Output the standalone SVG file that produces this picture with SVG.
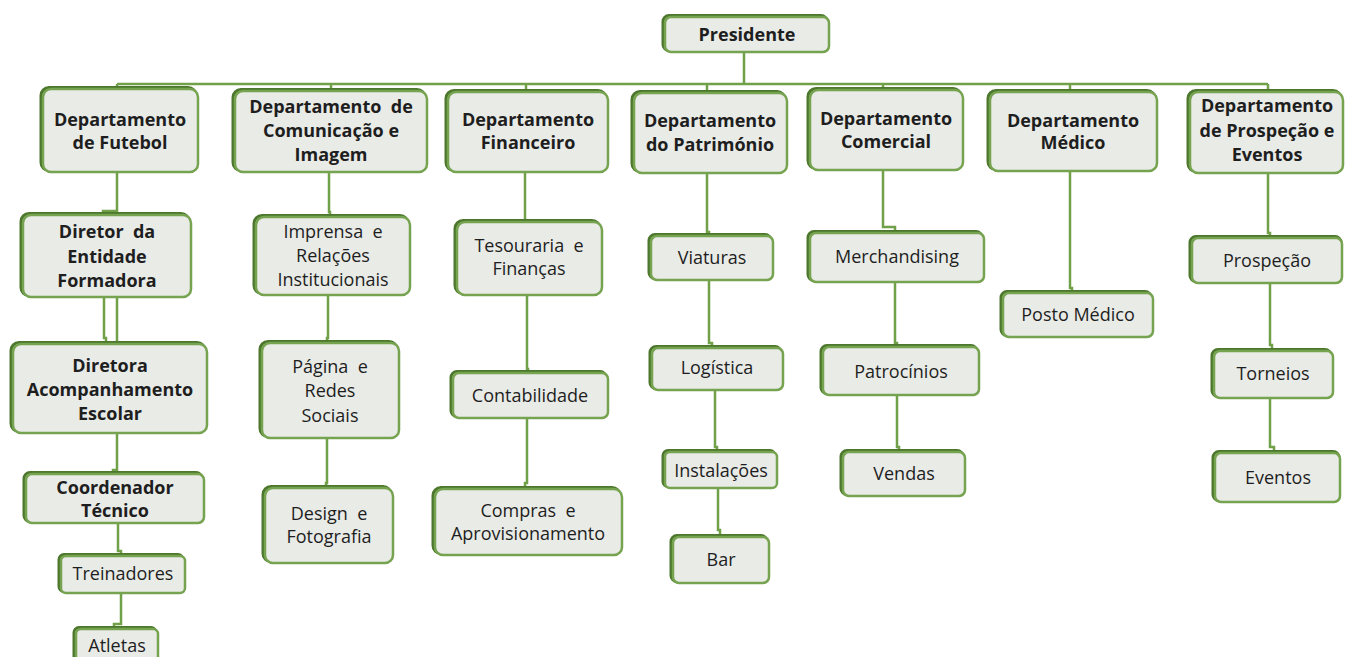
<svg xmlns="http://www.w3.org/2000/svg" width="1345" height="657" viewBox="0 0 1345 657">
<style>
.sh{fill:none;stroke:#4d772d;stroke-width:3}
.bx{fill:#e9ebe7;stroke:#76a34f;stroke-width:2.5}
.t{font-family:"Open Sans","Liberation Sans",sans-serif;font-size:18px;fill:#1e1e1e;text-anchor:middle;white-space:pre}
.b{font-weight:bold;font-size:18px}
.c{fill:none;stroke:#70a048;stroke-width:2.5}
</style>
<rect width="1345" height="657" fill="#ffffff"/>
<g id="connectors" class="c">
<path d="M744 52V84M117 84H1268"/>
<path d="M117 84V89M331 84V91M526 84V92M707 84V93M883 84V90M1070 84V92M1268 84V92"/>
<path d="M117 172V211H103V215"/>
<path d="M104 297V338H106V344M117 297V344"/>
<path d="M117 433V470H113V474"/>
<path d="M118 523V551H121V556"/>
<path d="M121 593V624H114V629"/>
<path d="M329 172V212H330V217"/>
<path d="M328 295V338H327V343"/>
<path d="M327 438V483H326V488"/>
<path d="M525 172V222"/>
<path d="M527 295V369H528V373"/>
<path d="M527 418V483H525V489"/>
<path d="M707 173V232H709V236"/>
<path d="M709 280V343H712V348"/>
<path d="M715 390V447H717V452"/>
<path d="M718 488V530H720V537"/>
<path d="M883 170V227H895V233"/>
<path d="M895 282V343H897V347"/>
<path d="M897 395V447H899V452"/>
<path d="M1070 171V288H1072V293"/>
<path d="M1268 173V233H1270V238"/>
<path d="M1270 283V345H1272V351"/>
<path d="M1270 398V447H1274V453"/>
</g>
<g id="n-presidente"><rect class="sh" x="663" y="15.5" width="164" height="35" rx="6"/><rect class="bx" x="665" y="17" width="164" height="35" rx="6"/><text class="t b" x="747" y="41">Presidente</text></g>
<g id="n-futebol"><rect class="sh" x="41" y="87.5" width="155" height="83" rx="8"/><rect class="bx" x="43" y="89" width="155" height="83" rx="8"/><text class="t b" x="120" y="126">Departamento</text><text class="t b" x="120" y="149">de Futebol</text></g>
<g id="n-comunicacao"><rect class="sh" x="233" y="89.5" width="192" height="81" rx="8"/><rect class="bx" x="235" y="91" width="192" height="81" rx="8"/><text class="t b" x="331" y="113">Departamento  de</text><text class="t b" x="331" y="137">Comunicação e</text><text class="t b" x="331" y="161">Imagem</text></g>
<g id="n-financeiro"><rect class="sh" x="446" y="90.5" width="160" height="80" rx="8"/><rect class="bx" x="448" y="92" width="160" height="80" rx="8"/><text class="t b" x="528" y="126">Departamento</text><text class="t b" x="528" y="149">Financeiro</text></g>
<g id="n-patrimonio"><rect class="sh" x="632" y="91.5" width="153" height="80" rx="8"/><rect class="bx" x="634" y="93" width="153" height="80" rx="8"/><text class="t b" x="710" y="127">Departamento</text><text class="t b" x="710" y="151">do Património</text></g>
<g id="n-comercial"><rect class="sh" x="808" y="88.5" width="153" height="80" rx="8"/><rect class="bx" x="810" y="90" width="153" height="80" rx="8"/><text class="t b" x="886" y="125">Departamento</text><text class="t b" x="886" y="148">Comercial</text></g>
<g id="n-medico"><rect class="sh" x="988" y="90.5" width="167" height="79" rx="8"/><rect class="bx" x="990" y="92" width="167" height="79" rx="8"/><text class="t b" x="1073" y="127">Departamento</text><text class="t b" x="1073" y="149">Médico</text></g>
<g id="n-prospecao-dep"><rect class="sh" x="1188" y="90.5" width="153" height="81" rx="8"/><rect class="bx" x="1190" y="92" width="153" height="81" rx="8"/><text class="t b" x="1267" y="112">Departamento</text><text class="t b" x="1267" y="137">de Prospeção e</text><text class="t b" x="1267" y="161">Eventos</text></g>
<g id="n-diretor"><rect class="sh" x="21" y="213.5" width="168" height="82" rx="8"/><rect class="bx" x="23" y="215" width="168" height="82" rx="8"/><text class="t b" x="107" y="238">Diretor  da</text><text class="t b" x="107" y="263">Entidade</text><text class="t b" x="107" y="287">Formadora</text></g>
<g id="n-diretora"><rect class="sh" x="11" y="342.5" width="194" height="89" rx="8"/><rect class="bx" x="13" y="344" width="194" height="89" rx="8"/><text class="t b" x="110" y="372">Diretora</text><text class="t b" x="110" y="396">Acompanhamento</text><text class="t b" x="110" y="420">Escolar</text></g>
<g id="n-coordenador"><rect class="sh" x="24" y="472.5" width="178" height="49" rx="6"/><rect class="bx" x="26" y="474" width="178" height="49" rx="6"/><text class="t b" x="115" y="494">Coordenador</text><text class="t b" x="115" y="517">Técnico</text></g>
<g id="n-treinadores"><rect class="sh" x="59" y="554.5" width="124" height="37" rx="5"/><rect class="bx" x="61" y="556" width="124" height="37" rx="5"/><text class="t" x="123" y="580">Treinadores</text></g>
<g id="n-atletas"><rect class="sh" x="74" y="627.5" width="82" height="35" rx="5"/><rect class="bx" x="76" y="629" width="82" height="35" rx="5"/><text class="t" x="117" y="652">Atletas</text></g>
<g id="n-imprensa"><rect class="sh" x="254" y="215.5" width="154" height="78" rx="8"/><rect class="bx" x="256" y="217" width="154" height="78" rx="8"/><text class="t" x="333" y="238">Imprensa  e</text><text class="t" x="333" y="262">Relações</text><text class="t" x="333" y="286">Institucionais</text></g>
<g id="n-pagina"><rect class="sh" x="260" y="341.5" width="137" height="95" rx="8"/><rect class="bx" x="262" y="343" width="137" height="95" rx="8"/><text class="t" x="330" y="373">Página  e</text><text class="t" x="330" y="397">Redes</text><text class="t" x="330" y="422">Sociais</text></g>
<g id="n-design"><rect class="sh" x="263" y="486.5" width="128" height="75" rx="8"/><rect class="bx" x="265" y="488" width="128" height="75" rx="8"/><text class="t" x="329" y="520">Design  e</text><text class="t" x="329" y="543">Fotografia</text></g>
<g id="n-tesouraria"><rect class="sh" x="455" y="220.5" width="145" height="73" rx="8"/><rect class="bx" x="457" y="222" width="145" height="73" rx="8"/><text class="t" x="529" y="252">Tesouraria  e</text><text class="t" x="529" y="275">Finanças</text></g>
<g id="n-contabilidade"><rect class="sh" x="451" y="371.5" width="155" height="45" rx="6"/><rect class="bx" x="453" y="373" width="155" height="45" rx="6"/><text class="t" x="530" y="402">Contabilidade</text></g>
<g id="n-compras"><rect class="sh" x="433" y="487.5" width="187" height="66" rx="8"/><rect class="bx" x="435" y="489" width="187" height="66" rx="8"/><text class="t" x="528" y="517">Compras  e</text><text class="t" x="528" y="540">Aprovisionamento</text></g>
<g id="n-viaturas"><rect class="sh" x="649" y="234.5" width="122" height="44" rx="6"/><rect class="bx" x="651" y="236" width="122" height="44" rx="6"/><text class="t" x="712" y="264">Viaturas</text></g>
<g id="n-logistica"><rect class="sh" x="650" y="346.5" width="131" height="42" rx="6"/><rect class="bx" x="652" y="348" width="131" height="42" rx="6"/><text class="t" x="717" y="374">Logística</text></g>
<g id="n-instalacoes"><rect class="sh" x="663" y="450.5" width="112" height="36" rx="5"/><rect class="bx" x="665" y="452" width="112" height="36" rx="5"/><text class="t" x="721" y="477">Instalações</text></g>
<g id="n-bar"><rect class="sh" x="671" y="535.5" width="96" height="46" rx="6"/><rect class="bx" x="673" y="537" width="96" height="46" rx="6"/><text class="t" x="721" y="566">Bar</text></g>
<g id="n-merchandising"><rect class="sh" x="808" y="231.5" width="174" height="49" rx="6"/><rect class="bx" x="810" y="233" width="174" height="49" rx="6"/><text class="t" x="897" y="263">Merchandising</text></g>
<g id="n-patrocinios"><rect class="sh" x="821" y="345.5" width="156" height="48" rx="6"/><rect class="bx" x="823" y="347" width="156" height="48" rx="6"/><text class="t" x="901" y="378">Patrocínios</text></g>
<g id="n-vendas"><rect class="sh" x="841" y="450.5" width="122" height="44" rx="6"/><rect class="bx" x="843" y="452" width="122" height="44" rx="6"/><text class="t" x="904" y="480">Vendas</text></g>
<g id="n-posto"><rect class="sh" x="1001" y="291.5" width="150" height="44" rx="6"/><rect class="bx" x="1003" y="293" width="150" height="44" rx="6"/><text class="t" x="1078" y="321">Posto Médico</text></g>
<g id="n-prospecao"><rect class="sh" x="1190" y="236.5" width="151" height="45" rx="6"/><rect class="bx" x="1192" y="238" width="150" height="45" rx="6"/><text class="t" x="1267" y="267">Prospeção</text></g>
<g id="n-torneios"><rect class="sh" x="1212" y="349.5" width="119" height="47" rx="6"/><rect class="bx" x="1214" y="351" width="119" height="47" rx="6"/><text class="t" x="1273" y="380">Torneios</text></g>
<g id="n-eventos"><rect class="sh" x="1213" y="451.5" width="126" height="49" rx="6"/><rect class="bx" x="1215" y="453" width="125" height="49" rx="6"/><text class="t" x="1278" y="484">Eventos</text></g>
</svg>
